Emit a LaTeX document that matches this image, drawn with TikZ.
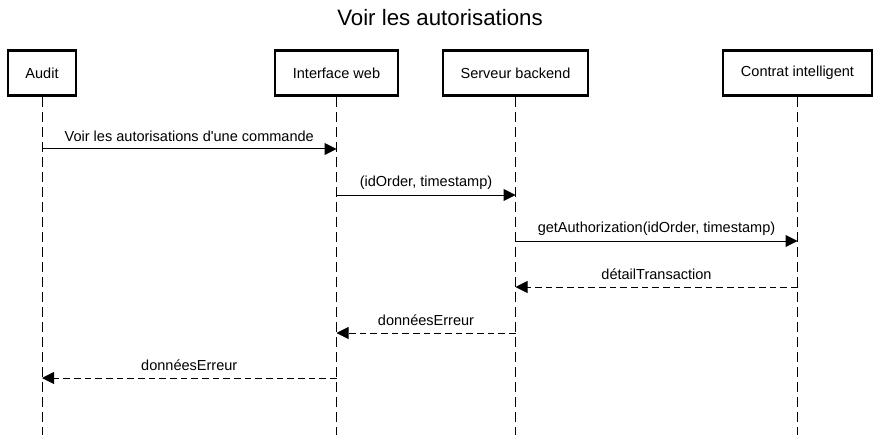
\documentclass[tikz,border=0pt]{standalone}
\usepackage{fontspec}
\setmainfont{Liberation Sans}
\usetikzlibrary{arrows.meta}
\begin{document}
\begin{tikzpicture}[x=0.75pt,y=-0.75pt,
  actor/.style={draw=black,line width=1.9pt,fill=white,minimum height=33.75pt,inner sep=0pt,font=\fontsize{10.9}{12}\selectfont},
  lifeline/.style={draw=black,line width=0.75pt,dash pattern=on 7.5pt off 3.75pt},
  callmsg/.style={draw=black,line width=0.75pt,-{Triangle[length=9pt,width=9pt]}},
  retmsg/.style={draw=black,line width=0.75pt,dash pattern=on 5pt off 3pt,-{Triangle[length=9pt,width=9pt]}},
  lbl/.style={midway,yshift=9.5pt,font=\fontsize{10.9}{12}\selectfont,inner sep=0pt}]
\useasboundingbox (0,0) rectangle (879,435);
\node[font=\fontsize{16.7}{20}\selectfont] (title) at (440,18) {Voir les autorisations};
\node[actor,minimum width=51pt] (audit) at (42,73) {Audit};
\node[actor,minimum width=92.25pt] (web) at (336.5,73) {Interface web};
\node[actor,minimum width=108.75pt] (srv) at (515.5,73) {Serveur backend};
\node[actor,minimum width=111.75pt] (sc) at (797.5,73) {Contrat intelligent};
\coordinate (auditE) at (42,435);
\coordinate (webE) at (336.5,435);
\coordinate (srvE) at (515.5,435);
\coordinate (scE) at (797.5,435);
\draw[lifeline] (audit.south) -- (auditE);
\draw[lifeline] (web.south) -- (webE);
\draw[lifeline] (srv.south) -- (srvE);
\draw[lifeline] (sc.south) -- (scE);
% message points
\coordinate (a1) at (42,149);   \coordinate (w1) at (336.5,149);
\coordinate (w2) at (336.5,195); \coordinate (s2) at (515.5,195);
\coordinate (s3) at (515.5,241); \coordinate (c3) at (797.5,241);
\coordinate (c4) at (797.5,287); \coordinate (s4) at (515.5,287);
\coordinate (s5) at (515.5,333); \coordinate (w5) at (336.5,333);
\coordinate (w6) at (336.5,378); \coordinate (a6) at (42,378);
\draw[callmsg] (a1) -- node[lbl] {Voir les autorisations d\textquotesingle une commande} (w1);
\draw[callmsg] (w2) -- node[lbl] {(idOrder, timestamp)} (s2);
\draw[callmsg] (s3) -- node[lbl] {getAuthorization(idOrder, timestamp)} (c3);
\draw[retmsg] (c4) -- node[lbl] {détailTransaction} (s4);
\draw[retmsg] (s5) -- node[lbl] {donnéesErreur} (w5);
\draw[retmsg] (w6) -- node[lbl] {donnéesErreur} (a6);
\end{tikzpicture}
\end{document}
